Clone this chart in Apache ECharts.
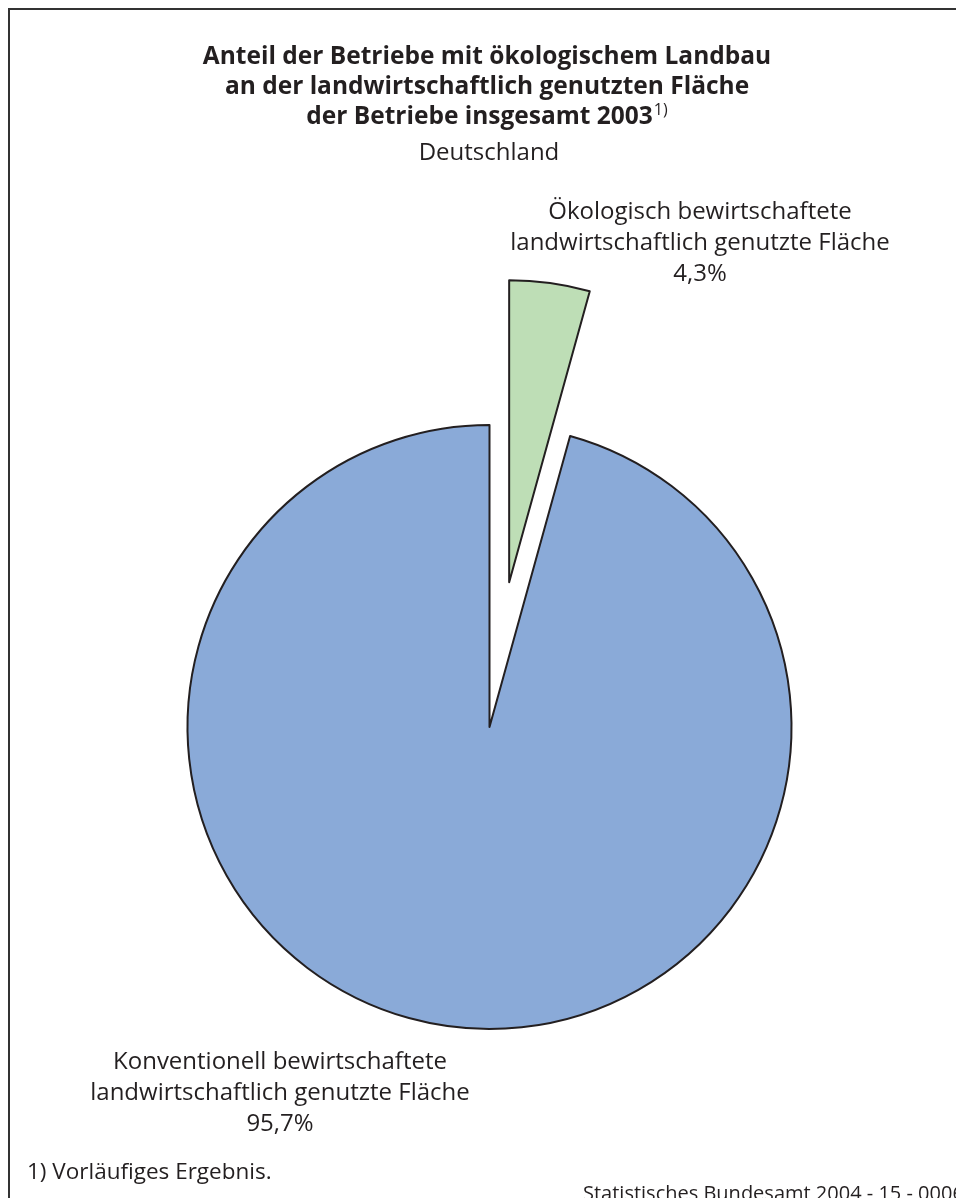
<!DOCTYPE html>
<html>
<head>
<meta charset="utf-8">
<script src="https://cdn.jsdelivr.net/npm/echarts@6/dist/echarts.min.js"></script>
<style>
  html, body { margin: 0; padding: 0; background: #ffffff; }
  #chart { width: 956px; height: 1198px; }
</style>
</head>
<body>
<div id="chart"></div>
<script>
// Share of organically farmed area in total agricultural area, Germany 2003
const categories = [
  'Ökologisch bewirtschaftete\nlandwirtschaftlich genutzte Fläche',
  'Konventionell bewirtschaftete\nlandwirtschaftlich genutzte Fläche'
];
const shares = [4.3, 95.7];
const sliceColors = ['#bedeb6', '#8aaad8'];

const titleLines = [
  'Anteil der Betriebe mit ökologischem Landbau',
  'an der landwirtschaftlich genutzten Fläche',
  'der Betriebe insgesamt 2003'
];
const subtitle = 'Deutschland';
const footnote = '1) Vorläufiges Ergebnis.';
const source = 'Statistisches Bundesamt 2004 - 15 - 0006';

const FONT = '"Open Sans", "Noto Sans", sans-serif';
const INK = '#231f20';

function fmt(v) {
  return v.toFixed(1).replace('.', ',') + '%';
}

// centre of each slice's text block (name lines + percentage)
const labelAnchors = [
  { x: 700, y: 243 },
  { x: 280, y: 1093 }
];

const sliceLabels = categories.map((name, i) => ({
  type: 'text',
  x: labelAnchors[i].x,
  y: labelAnchors[i].y,
  silent: true,
  style: {
    text: name + '\n' + fmt(shares[i]),
    font: '24px ' + FONT,
    lineHeight: 31,
    fill: INK,
    align: 'center',
    verticalAlign: 'middle'
  }
}));

const chart = echarts.init(document.getElementById('chart'), null, { renderer: 'canvas' });

chart.setOption({
  animation: false,
  backgroundColor: '#ffffff',
  graphic: [
    {
      type: 'rect',
      silent: true,
      shape: { x: 9, y: 9, width: 1100, height: 1300 },
      style: { fill: 'none', stroke: '#333333', lineWidth: 2 }
    },
    {
      type: 'text',
      x: 487, y: 42,
      silent: true,
      style: {
        text: titleLines[0] + '\n' + titleLines[1] + '\n' + titleLines[2] + '{sup|1)}',
        font: 'bold 24.5px ' + FONT,
        fill: INK,
        align: 'center',
        verticalAlign: 'top',
        lineHeight: 30,
        rich: {
          sup: { fontSize: 16, fontWeight: 'normal', fontFamily: FONT, verticalAlign: 'top', padding: [0, 0, 12, 1], fill: INK }
        }
      }
    },
    {
      type: 'text',
      x: 489, y: 153,
      silent: true,
      style: {
        text: subtitle,
        font: '24px ' + FONT,
        fill: INK,
        align: 'center',
        verticalAlign: 'middle'
      }
    },
    ...sliceLabels,
    {
      type: 'text',
      x: 27, y: 1173,
      silent: true,
      style: {
        text: footnote,
        font: '22.5px ' + FONT,
        fill: INK,
        align: 'left',
        verticalAlign: 'middle'
      }
    },
    {
      type: 'text',
      x: 583, y: 1194,
      silent: true,
      style: {
        text: source,
        font: '20px ' + FONT,
        fill: INK,
        align: 'left',
        verticalAlign: 'middle'
      }
    }
  ],
  series: [
    {
      type: 'pie',
      center: [489.5, 727],
      radius: [0, 302],
      startAngle: 90,
      clockwise: true,
      selectedMode: 'single',
      selectedOffset: 146,
      emphasis: { disabled: true },
      itemStyle: { borderColor: INK, borderWidth: 2 },
      label: { show: false },
      labelLine: { show: false },
      data: categories.map((name, i) => ({
        name,
        value: shares[i],
        selected: i === 0,
        itemStyle: { color: sliceColors[i] }
      }))
    }
  ]
});
</script>
</body>
</html>
